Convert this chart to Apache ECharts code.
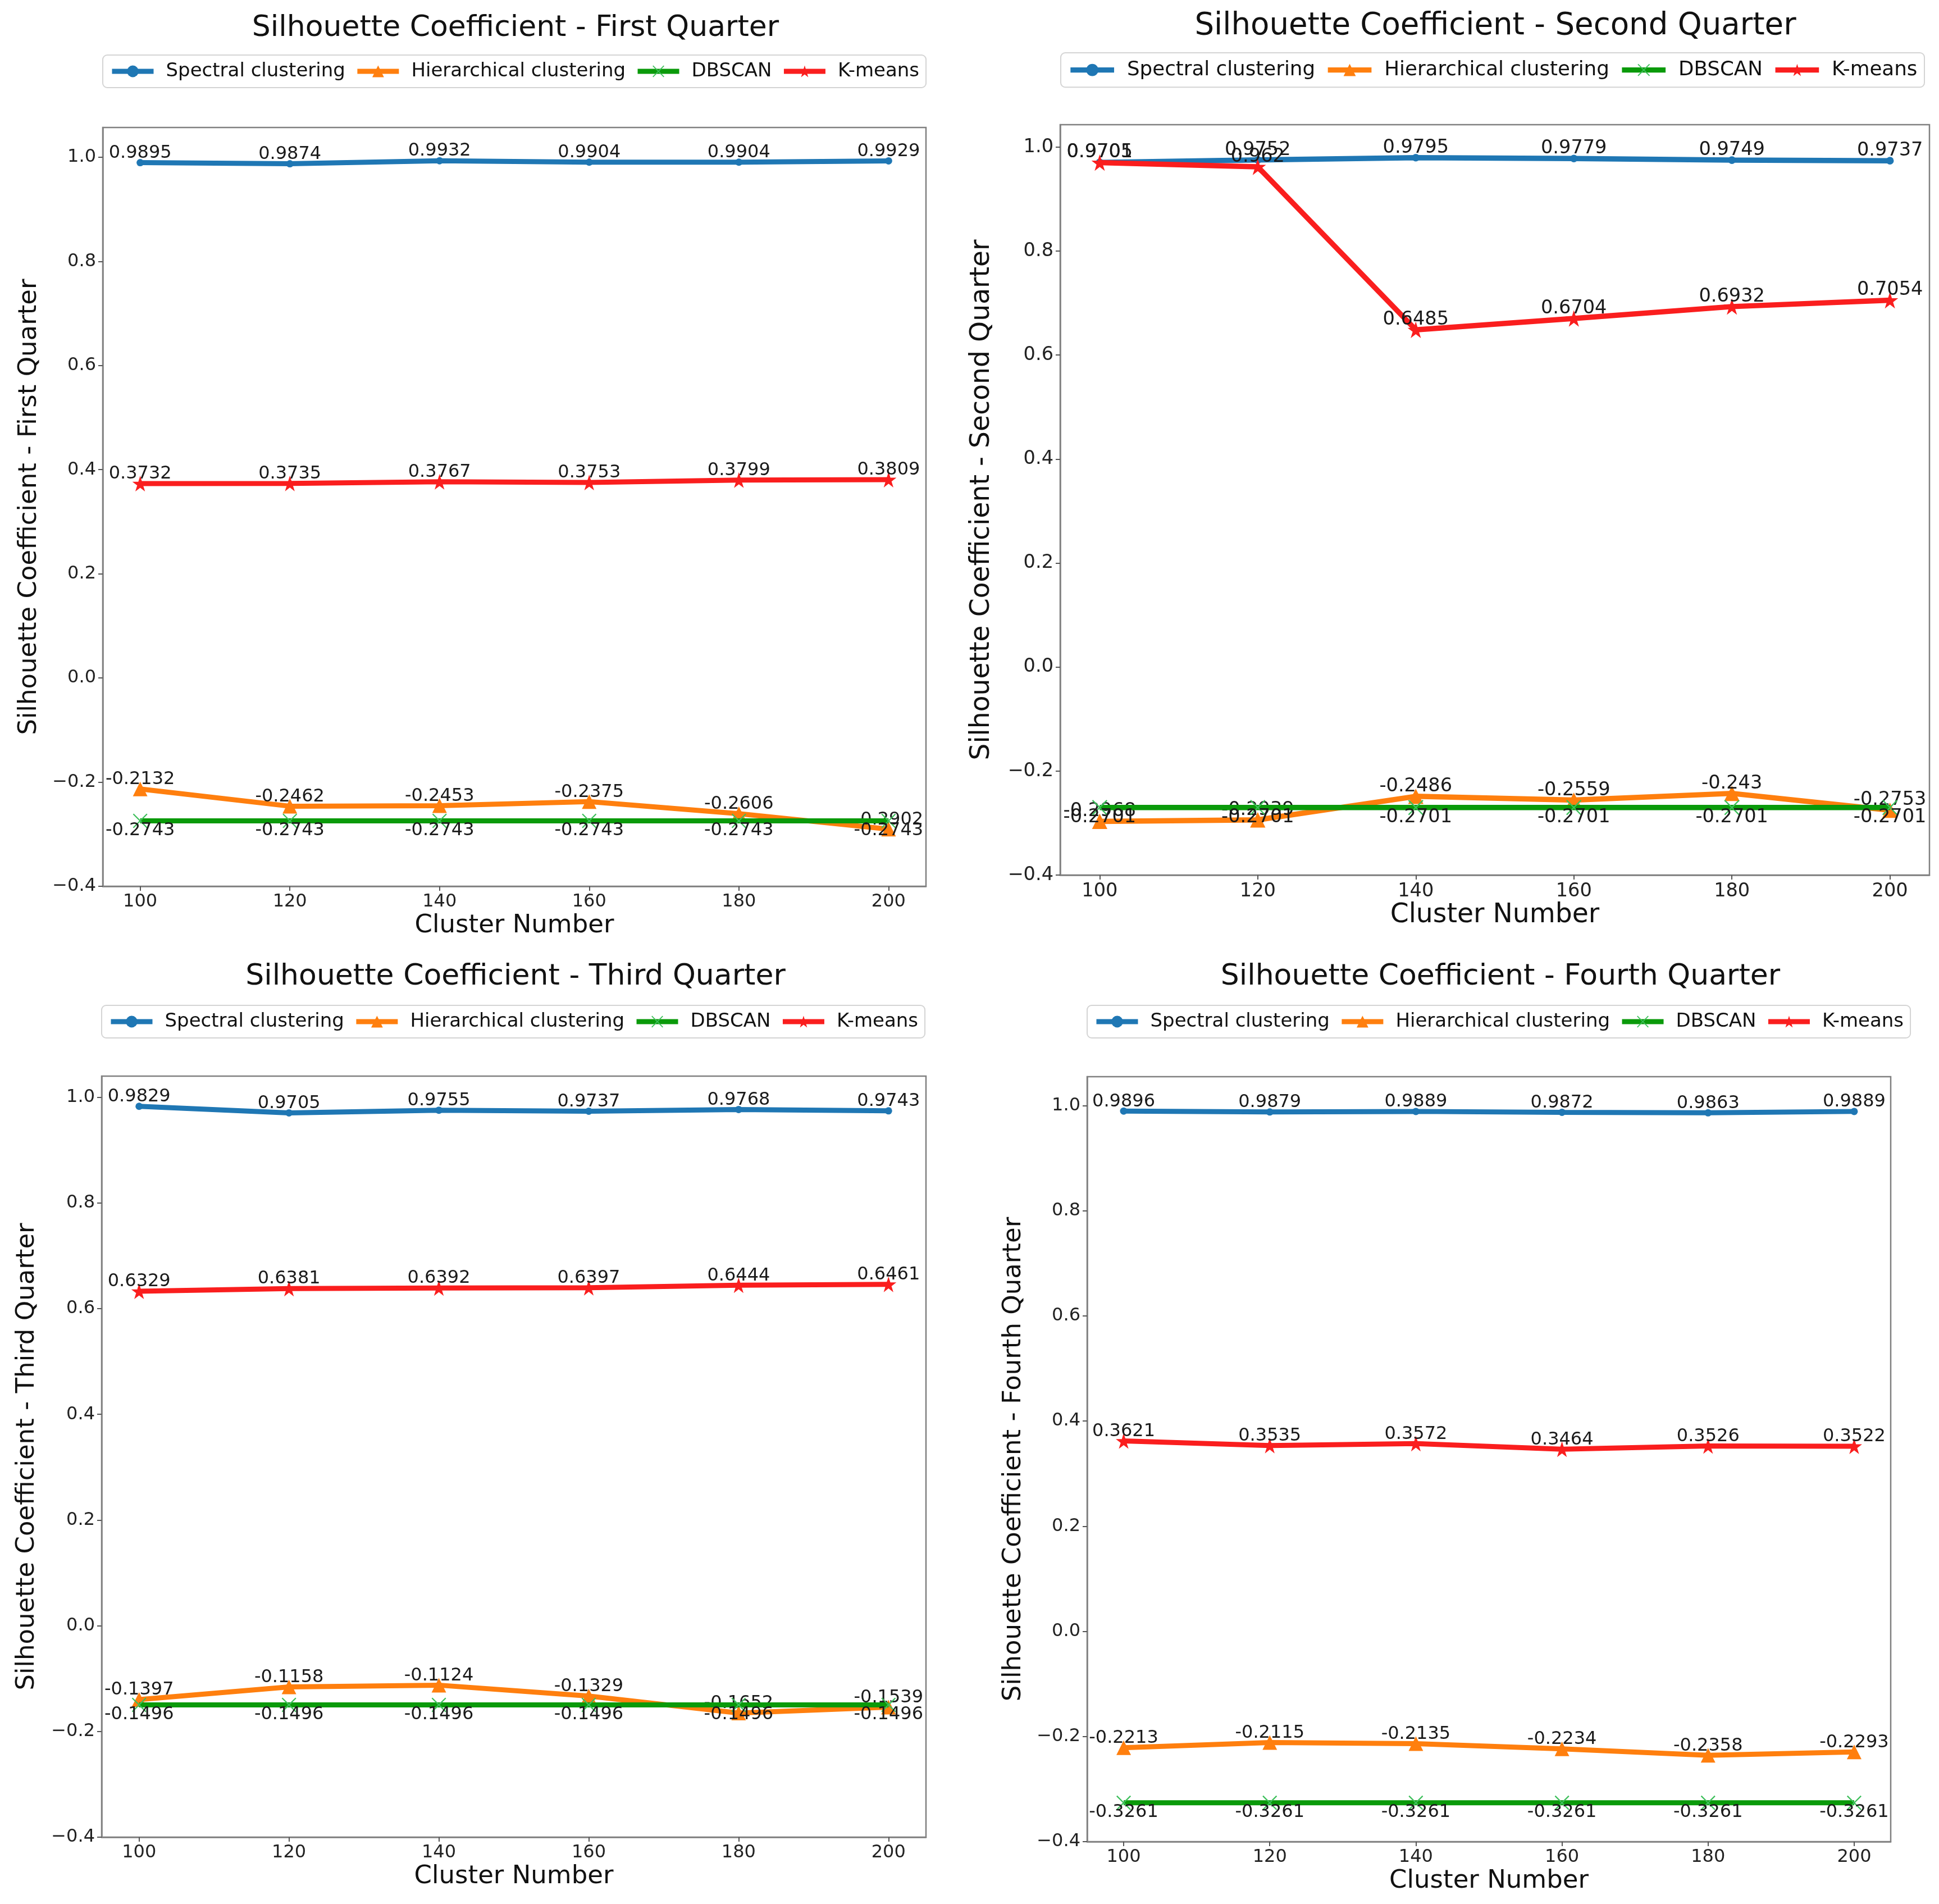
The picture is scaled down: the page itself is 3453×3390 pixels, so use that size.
<!DOCTYPE html>
<html>
<head>
<meta charset="utf-8">
<title>Silhouette Coefficient</title>
<script src="https://cdn.jsdelivr.net/npm/echarts@6.0.0/dist/echarts.min.js"></script>
<style>
  html, body { margin: 0; padding: 0; background: #fff; }
  #main { width: 3453px; height: 3390px; }
</style>
</head>
<body>
<div id="main"></div>
<script>
// x categories (cluster numbers) and axis ticks
const clusterNumbers = [100, 120, 140, 160, 180, 200];
const xTicks = [100, 120, 140, 160, 180, 200];
const yTicks = [-0.4, -0.2, 0.0, 0.2, 0.4, 0.6, 0.8, 1.0];
const seriesNames = ['Spectral clustering', 'Hierarchical clustering', 'DBSCAN', 'K-means'];

// First quarter
const q1Spectral = [0.9895, 0.9874, 0.9932, 0.9904, 0.9904, 0.9929];
const q1Hierarchical = [-0.2132, -0.2462, -0.2453, -0.2375, -0.2606, -0.2902];
const q1Dbscan = [-0.2743, -0.2743, -0.2743, -0.2743, -0.2743, -0.2743];
const q1Kmeans = [0.3732, 0.3735, 0.3767, 0.3753, 0.3799, 0.3809];

// Second quarter
const q2Spectral = [0.9705, 0.9752, 0.9795, 0.9779, 0.9749, 0.9737];
const q2Hierarchical = [-0.2968, -0.2939, -0.2486, -0.2559, -0.243, -0.2753];
const q2Dbscan = [-0.2701, -0.2701, -0.2701, -0.2701, -0.2701, -0.2701];
const q2Kmeans = [0.9701, 0.962, 0.6485, 0.6704, 0.6932, 0.7054];

// Third quarter
const q3Spectral = [0.9829, 0.9705, 0.9755, 0.9737, 0.9768, 0.9743];
const q3Hierarchical = [-0.1397, -0.1158, -0.1124, -0.1329, -0.1652, -0.1539];
const q3Dbscan = [-0.1496, -0.1496, -0.1496, -0.1496, -0.1496, -0.1496];
const q3Kmeans = [0.6329, 0.6381, 0.6392, 0.6397, 0.6444, 0.6461];

// Fourth quarter
const q4Spectral = [0.9896, 0.9879, 0.9889, 0.9872, 0.9863, 0.9889];
const q4Hierarchical = [-0.2213, -0.2115, -0.2135, -0.2234, -0.2358, -0.2293];
const q4Dbscan = [-0.3261, -0.3261, -0.3261, -0.3261, -0.3261, -0.3261];
const q4Kmeans = [0.3621, 0.3535, 0.3572, 0.3464, 0.3526, 0.3522];

const FONT = 'DejaVu Sans';
const colors = ['#1f77b4', '#ff7f0e', '#0a9a0a', '#fa1e1e'];
const starPath = 'path://M50 0 L61.2 34.6 L97.6 34.5 L68.1 55.9 L79.4 90.5 L50 69 L20.6 90.5 L31.9 55.9 L2.4 34.5 L38.8 34.6 Z';
const xPath = 'path://M0 6 L6 0 L50 44 L94 0 L100 6 L56 50 L100 94 L94 100 L50 56 L6 100 L0 94 L44 50 Z';

const panels = [
  { title: 'Silhouette Coefficient - First Quarter', yName: 'Silhouette Coefficient - First Quarter',
    values: [q1Spectral, q1Hierarchical, q1Dbscan, q1Kmeans], yMax: 1.057,
    grid: { left: 183, top: 227, width: 1466, height: 1351 },
    titleX: 918, titleTop: 24, legendLeft: 183, legendTop: 98, s: 1, yNameGap: 108 },
  { title: 'Silhouette Coefficient - Second Quarter', yName: 'Silhouette Coefficient - Second Quarter',
    values: [q2Spectral, q2Hierarchical, q2Dbscan, q2Kmeans], yMax: 1.043,
    grid: { left: 1888, top: 222, width: 1548, height: 1336 },
    titleX: 2663, titleTop: 20, legendLeft: 1889, legendTop: 94, s: 1.05, yNameGap: 116 },
  { title: 'Silhouette Coefficient - Third Quarter', yName: 'Silhouette Coefficient - Third Quarter',
    values: [q3Spectral, q3Hierarchical, q3Dbscan, q3Kmeans], yMax: 1.040,
    grid: { left: 181, top: 1916, width: 1468, height: 1355 },
    titleX: 918, titleTop: 1713, legendLeft: 181, legendTop: 1790, s: 1, yNameGap: 110 },
  { title: 'Silhouette Coefficient - Fourth Quarter', yName: 'Silhouette Coefficient - Fourth Quarter',
    values: [q4Spectral, q4Hierarchical, q4Dbscan, q4Kmeans], yMax: 1.055,
    grid: { left: 1936, top: 1917, width: 1431, height: 1362 },
    titleX: 2672, titleTop: 1713, legendLeft: 1936, legendTop: 1790, s: 1, yNameGap: 108 }
];

const fmtTick = v => (v < 0 ? '\u2212' : '') + Math.abs(v).toFixed(1);

const option = {
  animation: false,
  backgroundColor: '#fff',
  textStyle: { fontFamily: FONT },
  title: [], legend: [], grid: [], xAxis: [], yAxis: [], series: []
};

panels.forEach(function (p, i) {
  const s = p.s;
  option.title.push({
    text: p.title, left: p.titleX, top: p.titleTop, textAlign: 'center', padding: 0,
    textStyle: { fontFamily: FONT, fontSize: 52 * s, fontWeight: 'normal', color: '#111', lineHeight: 52 * s }
  });
  option.legend.push({
    data: seriesNames, left: p.legendLeft, top: p.legendTop, orient: 'horizontal',
    padding: [12 * s, 12 * s], itemWidth: 74 * s, itemHeight: 26 * s, itemGap: 17 * s,
    backgroundColor: '#fff', borderColor: '#d4d4d4', borderWidth: 2, borderRadius: 8,
    selectedMode: false,
    lineStyle: { width: 9 * s },
    textStyle: { fontFamily: FONT, fontSize: 34 * s, color: '#111', lineHeight: 34 * s, padding: [0, 0, 0, 17 * s] }
  });
  option.grid.push(Object.assign({ show: true, borderColor: '#808080', borderWidth: 2.5, containLabel: false }, p.grid));
  option.xAxis.push({
    type: 'value', gridIndex: i, min: 95, max: 205,
    name: 'Cluster Number', nameLocation: 'middle', nameGap: 48,
    nameTextStyle: { fontFamily: FONT, fontSize: 45 * s, color: '#111' },
    axisLine: { show: true, onZero: false, lineStyle: { color: '#808080', width: 2.5 } },
    axisTick: { show: true, length: 8, customValues: xTicks, lineStyle: { color: '#555', width: 2 } },
    axisLabel: { customValues: xTicks, margin: 12, fontFamily: FONT, fontSize: 32 * s, color: '#222' },
    splitLine: { show: false }
  });
  option.yAxis.push({
    type: 'value', gridIndex: i, min: -0.4, max: p.yMax,
    name: p.yName, nameLocation: 'middle', nameGap: p.yNameGap, nameRotate: 90,
    nameTextStyle: { fontFamily: FONT, fontSize: 45 * s, color: '#111' },
    axisLine: { show: true, onZero: false, lineStyle: { color: '#808080', width: 2.5 } },
    axisTick: { show: true, length: 8, customValues: yTicks, lineStyle: { color: '#555', width: 2 } },
    axisLabel: { customValues: yTicks, margin: 12, fontFamily: FONT, fontSize: 32 * s, color: '#222', formatter: fmtTick },
    splitLine: { show: false }
  });

  const symbols = ['circle', 'triangle', xPath, starPath];
  const sizes = [13 * s, 26 * s, 26 * s, 28 * s];
  const symColors = [colors[0], colors[1], '#3cbf5a', colors[3]];
  p.values.forEach(function (vals, k) {
    option.series.push({
      name: seriesNames[k], type: 'line', xAxisIndex: i, yAxisIndex: i,
      data: clusterNumbers.map((x, j) => [x, vals[j]]),
      symbol: symbols[k], symbolSize: sizes[k], showAllSymbol: true,
      lineStyle: { color: colors[k], width: 9 * s },
      itemStyle: { color: symColors[k] },
      emphasis: { disabled: true },
      label: {
        show: true,
        // matplotlib text: bottom (or top for DBSCAN) edge sits on the point itself
        position: k === 2 ? 'bottom' : 'top',
        distance: 1 - sizes[k] / 2,
        fontFamily: FONT, fontSize: 32 * s, lineHeight: 32 * s, color: '#1a1a1a',
        formatter: prm => String(prm.value[1])
      },
      z: 2 + k
    });
  });
});

const chart = echarts.init(document.getElementById('main'), null, { width: 3453, height: 3390 });
chart.setOption(option);
</script>
</body>
</html>
